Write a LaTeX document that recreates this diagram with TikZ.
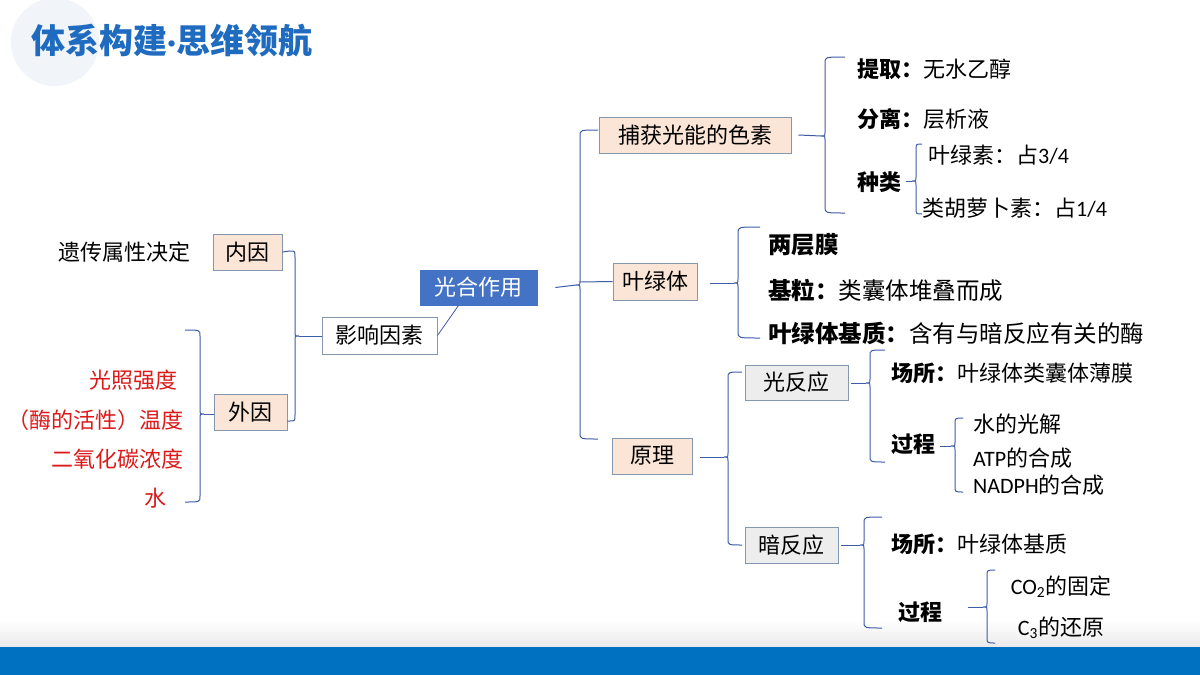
\documentclass[tikz,border=0pt]{standalone}
\usepackage{fontspec}
\setmainfont{Noto Sans CJK SC}
\newfontfamily\latf{Carlito}
\definecolor{titleblue}{HTML}{1F6BC0}
\definecolor{barblue}{HTML}{0070C0}
\definecolor{linec}{HTML}{3D5DA8}
\definecolor{borderc}{HTML}{8497B0}
\definecolor{peach}{HTML}{FBE5D6}
\definecolor{graybox}{HTML}{EDEDED}
\definecolor{mainblue}{HTML}{4472C4}
\definecolor{redtxt}{HTML}{DC1A1A}
\definecolor{circlec}{HTML}{F1F5FA}
\newcommand\fs{\fontsize{22}{26}\selectfont}
\newcommand\fsb{\fontsize{23.5}{27}\selectfont}
% brace: x, ytop, ymid, ybot, hook, dir (1 = opening right, -1 = opening left)
\newcommand\mybrace[6]{%
  \draw[brc] ({#1+(#6)*(#5)},#2) .. controls (#1,#2) .. (#1,{#2+6}) -- (#1,{#3-4})
    .. controls (#1,#3) .. ({#1-(#6)*4},#3) .. controls (#1,#3) .. (#1,{#3+4})
    -- (#1,{#4-6}) .. controls (#1,#4) .. ({#1+(#6)*(#5)},#4);}
\begin{document}
\begin{tikzpicture}[x=1pt,y=-1pt,
  brc/.style={draw=linec,line width=1pt},
  conn/.style={draw=linec,line width=1pt},
  boxn/.style={draw=borderc,line width=0.9pt,inner sep=0pt,font=\fs,text=black},
  txt/.style={inner sep=0pt,font=\fs,anchor=west},
  txtb/.style={inner sep=0pt,font=\fsb,anchor=west},
  redt/.style={inner sep=0pt,font=\fs,anchor=east,text=redtxt}]
\useasboundingbox (0,0) rectangle (1200,675);
% background decoration
\fill[white] (0,0) rectangle (1200,675);
\fill[circlec] (55,42) circle (44);
\shade[top color=white,bottom color=black!8] (0,620) rectangle (1200,647);
\fill[barblue] (0,647) rectangle (1200,675);
\node[anchor=west,inner sep=0pt,text=titleblue,font=\fontsize{34}{38}\selectfont\bfseries] (title) at (31,41) {体系构建{\latf\bfseries ·}思维领航};

% boxes
\node[boxn,fill=peach,minimum width=69pt,minimum height=36pt] (nei) at (247.5,252) {内因};
\node[boxn,fill=peach,minimum width=73pt,minimum height=36pt] (wai) at (250.5,412) {外因};
\node[boxn,fill=white,minimum width=115pt,minimum height=37pt] (yx) at (379.5,335.5) {影响因素};
\node[boxn,draw=mainblue,fill=mainblue,text=white,minimum width=117pt,minimum height=35pt] (gh) at (478.5,287.5) {光合作用};
\node[boxn,fill=peach,minimum width=192pt,minimum height=36pt] (bh) at (695,135) {捕获光能的色素\hspace{16pt}};
\node[boxn,fill=peach,minimum width=84pt,minimum height=37pt] (ylt) at (655,281.5) {叶绿体};
\node[boxn,fill=peach,minimum width=80pt,minimum height=36pt] (yl) at (652,456) {原理};
\node[boxn,fill=graybox,minimum width=103pt,minimum height=35pt] (gfy) at (796.5,382.5) {光反应};
\node[boxn,fill=graybox,minimum width=93pt,minimum height=36pt] (afy) at (791.5,545) {暗反应};

% left texts
\node[txt] (yc) at (58,252) {遗传属性决定};
\node[redt] (r1) at (178,380) {光照强度};
\node[redt] (r2) at (184,420) {（酶的活性）温度};
\node[redt] (r3) at (184,459) {二氧化碳浓度};
\node[redt] (r4) at (167,498) {水};

% pigment texts
\node[txt] (tq) at (857,69) {\textbf{提取：}无水乙醇};
\node[txt] (fl) at (857,119) {\textbf{分离：}层析液};
\node[txt] (zl) at (857,182) {\textbf{种类}};
\node[txt] (yls) at (928,155) {叶绿素：占{\latf 3/4}};
\node[txt] (lhl) at (922,208) {类胡萝卜素：占{\latf 1/4}};

% chloroplast texts
\node[txtb] (lcm) at (768,245) {\textbf{两层膜}};
\node[txtb] (jl) at (768,290) {\textbf{基粒：}类囊体堆叠而成};
\node[txtb] (jz) at (768,333) {\textbf{叶绿体基质：}含有与暗反应有关的酶};

% light reaction
\node[txt] (cs1) at (891,373) {\textbf{场所：}叶绿体类囊体薄膜};
\node[txt] (gc1) at (891,444) {\textbf{过程}};
\node[txt] (s1) at (973,424) {水的光解};
\node[txt] (s2) at (973,458) {{\latf ATP}的合成};
\node[txt] (s3) at (973,485) {{\latf NADPH}的合成};

% dark reaction
\node[txt] (cs2) at (891,544) {\textbf{场所：}叶绿体基质};
\node[txt] (gc2) at (898,612) {\textbf{过程}};
\node[inner sep=0pt,font=\fs] (d1) at (1061,587) {{\latf CO\textsubscript{2}}的固定};
\node[inner sep=0pt,font=\fs] (d2) at (1061,628) {{\latf C\textsubscript{3}}的还原};

% braces and connectors
% 外因 brace (opening left)
\mybrace{200}{330}{414}{502}{15}{-1}
\coordinate (tw) at (204,414);
\draw[conn] (tw) -- (wai.west |- tw);
% 内因/外因 -> 影响因素
\draw[brc] (nei.east) -- (290,251) .. controls (295,251) .. (295,257) -- (295,332)
  .. controls (295,336) .. (299,336) .. controls (295,336) .. (295,340) -- (295,415)
  .. controls (295,421) .. (290,421) -- (wai.east |- 0,421);
\coordinate (ty) at (299,336);
\draw[conn] (ty) -- (yx.west |- ty);
% 影响因素 -> 光合作用
\draw[conn,line width=0.8pt] (yx.east) -- ([xshift=-20pt]gh.south);
% main brace
\mybrace{580}{130}{285}{439}{18}{1}
\coordinate (tm) at (576,285);
\draw[conn] ([xshift=18pt]gh.east) -- (tm);
\draw[conn] (580,282) -- (ylt.west);
% pigment brace
\mybrace{825}{57}{136}{213}{20}{1}
\coordinate (tb) at (821,136);
\draw[conn] ([xshift=7pt]bh.east) -- (tb);
% 种类 brace
\mybrace{916}{144}{181}{214}{6}{1}
\coordinate (tz) at (912,181);
\draw[conn,line width=0.6pt] ([xshift=5pt]zl.east |- tz) -- (tz);
% chloroplast brace
\mybrace{738}{227}{283}{338}{22}{1}
\coordinate (tc) at (734,283);
\draw[conn] ([xshift=13pt]ylt.east |- tc) -- (tc);
% principle brace
\mybrace{728}{372}{457}{545}{14}{1}
\coordinate (tp) at (724,457);
\draw[conn] ([xshift=8pt]yl.east |- tp) -- (tp);
% light reaction brace
\mybrace{870}{350}{383}{462}{15}{1}
\coordinate (tl) at (866,383);
\draw[conn] ([xshift=3pt]gfy.east |- tl) -- (tl);
% light process brace
\mybrace{955}{418}{446}{492}{8}{1}
\coordinate (tlp) at (951,446);
\draw[conn] ([xshift=5pt]gc1.east |- tlp) -- (tlp);
% dark reaction brace
\mybrace{864}{517}{545}{628}{18}{1}
\coordinate (td) at (860,545);
\draw[conn] ([xshift=3pt]afy.east |- td) -- (td);
% dark process brace
\mybrace{987}{570}{607}{643}{8}{1}
\coordinate (tdp) at (983,607);
\draw[conn] ([xshift=26pt]gc2.east |- tdp) -- (tdp);
\end{tikzpicture}
\end{document}
